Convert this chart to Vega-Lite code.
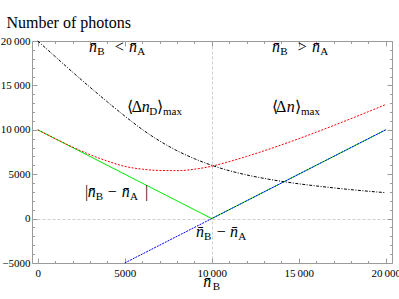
{
  "$schema": "https://vega.github.io/schema/vega-lite/v6.json",
  "width": 360,
  "height": 222,
  "autosize": {"type": "none"},
  "padding": {"left": 32, "top": 41, "right": 7, "bottom": 36},
  "background": "white",
  "view": {"stroke": "#9a9a9a", "strokeWidth": 1},
  "datasets": {
    "curves": [
      {"s": "green", "x": 0, "y": 10000}, {"s": "green", "x": 10000, "y": 0}, {"s": "green", "x": 20000, "y": 10000},
      {"s": "blue", "x": 5000, "y": -5000}, {"s": "blue", "x": 20000, "y": 10000},
      {"s": "red", "x": 0, "y": 10000}, {"s": "red", "x": 1000, "y": 9010}, {"s": "red", "x": 2000, "y": 8060},
      {"s": "red", "x": 3000, "y": 7200}, {"s": "red", "x": 4000, "y": 6480}, {"s": "red", "x": 5000, "y": 5880},
      {"s": "red", "x": 6000, "y": 5570}, {"s": "red", "x": 7000, "y": 5420}, {"s": "red", "x": 8000, "y": 5400},
      {"s": "red", "x": 9000, "y": 5560}, {"s": "red", "x": 10000, "y": 5900}, {"s": "red", "x": 11000, "y": 6420},
      {"s": "red", "x": 12000, "y": 7000}, {"s": "red", "x": 13000, "y": 7630}, {"s": "red", "x": 14000, "y": 8300},
      {"s": "red", "x": 15000, "y": 9000}, {"s": "red", "x": 16000, "y": 9730}, {"s": "red", "x": 17000, "y": 10480},
      {"s": "red", "x": 18000, "y": 11250}, {"s": "red", "x": 19000, "y": 12040}, {"s": "red", "x": 20000, "y": 12850},
      {"s": "black", "x": 0, "y": 20000}, {"s": "black", "x": 1000, "y": 18250}, {"s": "black", "x": 2000, "y": 16500},
      {"s": "black", "x": 3000, "y": 14800}, {"s": "black", "x": 4000, "y": 13150}, {"s": "black", "x": 5000, "y": 11550},
      {"s": "black", "x": 6000, "y": 10050}, {"s": "black", "x": 7000, "y": 8750}, {"s": "black", "x": 8000, "y": 7650},
      {"s": "black", "x": 9000, "y": 6750}, {"s": "black", "x": 10000, "y": 6000}, {"s": "black", "x": 11000, "y": 5400},
      {"s": "black", "x": 12000, "y": 4920}, {"s": "black", "x": 13000, "y": 4530}, {"s": "black", "x": 14000, "y": 4200},
      {"s": "black", "x": 15000, "y": 3920}, {"s": "black", "x": 16000, "y": 3680}, {"s": "black", "x": 17000, "y": 3460},
      {"s": "black", "x": 18000, "y": 3260}, {"s": "black", "x": 19000, "y": 3080}, {"s": "black", "x": 20000, "y": 2920}
    ],
    "labels": [
      {"x": 2946, "y": 18759, "t": "n\u0304", "r": "v"},
      {"x": 3423, "y": 18759, "t": "B", "r": "s"},
      {"x": 4423, "y": 18759, "t": "<", "r": "m"},
      {"x": 5245, "y": 18759, "t": "n\u0304", "r": "v"},
      {"x": 5722, "y": 18759, "t": "A", "r": "s"},
      {"x": 13463, "y": 18759, "t": "n\u0304", "r": "v"},
      {"x": 13940, "y": 18759, "t": "B", "r": "s"},
      {"x": 14940, "y": 18759, "t": ">", "r": "m"},
      {"x": 15762, "y": 18759, "t": "n\u0304", "r": "v"},
      {"x": 16239, "y": 18759, "t": "A", "r": "s"},
      {"x": 5147, "y": 12003, "t": "\u27e8", "r": "m"},
      {"x": 5400, "y": 12003, "t": "\u0394", "r": "m"},
      {"x": 5975, "y": 12003, "t": "n", "r": "v"},
      {"x": 6411, "y": 12003, "t": "D", "r": "s"},
      {"x": 6871, "y": 12003, "t": "\u27e9", "r": "m"},
      {"x": 7199, "y": 12003, "t": "max", "r": "s"},
      {"x": 13445, "y": 12003, "t": "\u27e8", "r": "m"},
      {"x": 13693, "y": 12003, "t": "\u0394", "r": "m"},
      {"x": 14308, "y": 12003, "t": "n", "r": "v"},
      {"x": 14785, "y": 12003, "t": "\u27e9", "r": "m"},
      {"x": 15130, "y": 12003, "t": "max", "r": "s"},
      {"x": 2716, "y": 2398, "t": "|", "r": "m"},
      {"x": 2871, "y": 2398, "t": "n\u0304", "r": "v"},
      {"x": 3331, "y": 2398, "t": "B", "r": "s"},
      {"x": 4021, "y": 2398, "t": "\u2212", "r": "m"},
      {"x": 4825, "y": 2398, "t": "n\u0304", "r": "v"},
      {"x": 5302, "y": 2398, "t": "A", "r": "s"},
      {"x": 6164, "y": 2398, "t": "|", "r": "m"},
      {"x": 9095, "y": -2038, "t": "n\u0304", "r": "v"},
      {"x": 9555, "y": -2038, "t": "B", "r": "s"},
      {"x": 10285, "y": -2038, "t": "\u2212", "r": "m"},
      {"x": 11049, "y": -2038, "t": "n\u0304", "r": "v"},
      {"x": 11526, "y": -2038, "t": "A", "r": "s"},
      {"x": 9515, "y": -7702, "t": "n\u0304", "r": "v"},
      {"x": 10055, "y": -7702, "t": "B", "r": "s"}
    ]
  },
  "resolve": {"axis": {"x": "independent", "y": "independent"}},
  "layer": [
    {
      "data": {"name": "curves"},
      "transform": [{"filter": "datum.s === 'green'"}],
      "mark": {"type": "line", "color": "#00ee00", "strokeWidth": 1},
      "encoding": {
        "x": {"field": "x", "type": "quantitative", "scale": {"domain": [-330, 20360], "nice": false, "zero": false},
          "axis": {"orient": "bottom", "title": null, "domain": false,
            "values": [0,1000,2000,3000,4000,5000,6000,7000,8000,9000,10000,11000,12000,13000,14000,15000,16000,17000,18000,19000,20000],
            "labelExpr": "datum.value % 5000 !== 0 ? '' : (abs(datum.value) >= 10000 ? replace(format(datum.value, ','), ',', '\u2009') : format(datum.value, 'd'))",
            "labelFont": "Times New Roman", "labelFontSize": 11, "labelColor": "black", "labelPadding": 9,
            "labelFlush": false, "labelOverlap": false, "labelBound": false,
            "tickColor": "#9a9a9a", "tickWidth": 1,
            "tickSize": {"condition": {"test": "datum.value % 5000 === 0", "value": -5}, "value": -2.5},
            "grid": true, "gridColor": "#cfcfcf", "gridDash": [3, 2], "gridWidth": 1,
            "gridOpacity": {"condition": {"test": "datum.value === 10000", "value": 1}, "value": 0}}},
        "y": {"field": "y", "type": "quantitative", "scale": {"domain": [-5000, 20000], "nice": false, "zero": false},
          "axis": {"orient": "left", "domain": false,
            "values": [-5000,-4000,-3000,-2000,-1000,0,1000,2000,3000,4000,5000,6000,7000,8000,9000,10000,11000,12000,13000,14000,15000,16000,17000,18000,19000,20000],
            "labelExpr": "datum.value % 5000 !== 0 ? '' : (abs(datum.value) >= 10000 ? replace(format(datum.value, ','), ',', '\u2009') : format(datum.value, 'd'))",
            "labelFont": "Times New Roman", "labelFontSize": 11, "labelColor": "black", "labelPadding": 7,
            "labelFlush": false, "labelOverlap": false, "labelBound": false,
            "tickColor": "#9a9a9a", "tickWidth": 1,
            "tickSize": {"condition": {"test": "datum.value % 5000 === 0", "value": -5}, "value": -2.5},
            "grid": true, "gridColor": "#cfcfcf", "gridDash": [3, 2], "gridWidth": 1,
            "gridOpacity": {"condition": {"test": "datum.value === 0", "value": 1}, "value": 0},
            "title": "Number of photons", "titleAngle": 0, "titleAlign": "left", "titleBaseline": "alphabetic",
            "titleX": -26, "titleY": -14, "titleFont": "Times New Roman", "titleFontSize": 16,
            "titleFontWeight": "normal", "titleColor": "black"}}
      }
    },
    {
      "data": {"name": "curves"},
      "transform": [{"filter": "datum.s === 'blue'"}],
      "mark": {"type": "line", "color": "#0000ff", "strokeWidth": 1, "strokeDash": [2, 1]},
      "encoding": {
        "x": {"field": "x", "type": "quantitative", "scale": {"domain": [-330, 20360], "nice": false, "zero": false},
          "axis": {"orient": "top", "title": null, "domain": false, "labels": false, "grid": false,
            "values": [0,1000,2000,3000,4000,5000,6000,7000,8000,9000,10000,11000,12000,13000,14000,15000,16000,17000,18000,19000,20000],
            "tickColor": "#9a9a9a", "tickWidth": 1,
            "tickSize": {"condition": {"test": "datum.value % 5000 === 0", "value": -5}, "value": -2.5}}},
        "y": {"field": "y", "type": "quantitative", "scale": {"domain": [-5000, 20000], "nice": false, "zero": false},
          "axis": {"orient": "right", "title": null, "domain": false, "labels": false, "grid": false,
            "values": [-5000,-4000,-3000,-2000,-1000,0,1000,2000,3000,4000,5000,6000,7000,8000,9000,10000,11000,12000,13000,14000,15000,16000,17000,18000,19000,20000],
            "tickColor": "#9a9a9a", "tickWidth": 1,
            "tickSize": {"condition": {"test": "datum.value % 5000 === 0", "value": -5}, "value": -2.5}}}
      }
    },
    {
      "data": {"name": "curves"},
      "transform": [{"filter": "datum.s === 'red'"}],
      "mark": {"type": "line", "color": "#ff0000", "strokeWidth": 1, "strokeDash": [2, 1.5], "interpolate": "monotone"},
      "encoding": {
        "x": {"field": "x", "type": "quantitative", "scale": {"domain": [-330, 20360], "nice": false, "zero": false}, "axis": null},
        "y": {"field": "y", "type": "quantitative", "scale": {"domain": [-5000, 20000], "nice": false, "zero": false}, "axis": null}
      }
    },
    {
      "data": {"name": "curves"},
      "transform": [{"filter": "datum.s === 'black'"}],
      "mark": {"type": "line", "color": "#000000", "strokeWidth": 1, "strokeDash": [3, 1.5, 1, 1.5], "interpolate": "monotone"},
      "encoding": {
        "x": {"field": "x", "type": "quantitative", "scale": {"domain": [-330, 20360], "nice": false, "zero": false}, "axis": null},
        "y": {"field": "y", "type": "quantitative", "scale": {"domain": [-5000, 20000], "nice": false, "zero": false}, "axis": null}
      }
    },
    {
      "data": {"name": "labels"},
      "transform": [{"filter": "datum.r === 'v'"}],
      "mark": {"type": "text", "font": "Times New Roman", "fontSize": 16, "fontStyle": "italic", "align": "left", "baseline": "alphabetic", "color": "black"},
      "encoding": {
        "x": {"field": "x", "type": "quantitative", "scale": {"domain": [-330, 20360], "nice": false, "zero": false}, "axis": null},
        "y": {"field": "y", "type": "quantitative", "scale": {"domain": [-5000, 20000], "nice": false, "zero": false}, "axis": null},
        "text": {"field": "t", "type": "nominal"}
      }
    },
    {
      "data": {"name": "labels"},
      "transform": [{"filter": "datum.r === 'm'"}],
      "mark": {"type": "text", "font": "Times New Roman", "fontSize": 16, "align": "left", "baseline": "alphabetic", "color": "black"},
      "encoding": {
        "x": {"field": "x", "type": "quantitative", "scale": {"domain": [-330, 20360], "nice": false, "zero": false}, "axis": null},
        "y": {"field": "y", "type": "quantitative", "scale": {"domain": [-5000, 20000], "nice": false, "zero": false}, "axis": null},
        "text": {"field": "t", "type": "nominal"}
      }
    },
    {
      "data": {"name": "labels"},
      "transform": [{"filter": "datum.r === 's'"}],
      "mark": {"type": "text", "font": "Times New Roman", "fontSize": 11, "dy": 3, "align": "left", "baseline": "alphabetic", "color": "black"},
      "encoding": {
        "x": {"field": "x", "type": "quantitative", "scale": {"domain": [-330, 20360], "nice": false, "zero": false}, "axis": null},
        "y": {"field": "y", "type": "quantitative", "scale": {"domain": [-5000, 20000], "nice": false, "zero": false}, "axis": null},
        "text": {"field": "t", "type": "nominal"}
      }
    }
  ]
}
